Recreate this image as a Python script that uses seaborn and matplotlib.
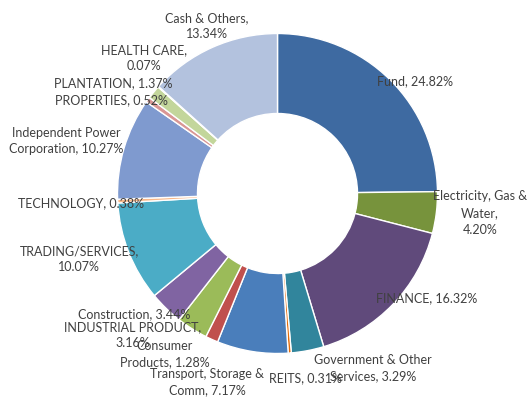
import matplotlib
matplotlib.use("Agg")
import matplotlib.pyplot as plt
import seaborn as sns

sns.set_theme(style="white")
plt.rcParams['font.family'] = ['Lato', 'DejaVu Sans']

categories = ["Fund", "Electricity, Gas &\nWater", "FINANCE", "Government & Other\nServices",
              "REITS", "Transport, Storage &\nComm", "Consumer\nProducts", "INDUSTRIAL PRODUCT",
              "Construction", "TRADING/SERVICES", "TECHNOLOGY", "Independent Power\nCorporation",
              "PROPERTIES", "PLANTATION", "HEALTH CARE", "Cash & Others"]
values = [24.82, 4.20, 16.32, 3.29, 0.31, 7.17, 1.28, 3.16, 3.44, 10.07, 0.38, 10.27, 0.52, 1.37, 0.07, 13.34]
colors = ["#3E6AA1", "#77933C", "#604A7B", "#31859C", "#E46C0A", "#4A7EBB", "#C0504D", "#9BBB59",
          "#8064A2", "#4BACC6", "#F9B98A", "#7F9ACF", "#D99694", "#C3D69B", "#B3A2C7", "#B3C2DE"]

# label layout: separator between name and value, and pixel position (y from top)
separators = [", ", ",\n", ", ", ", ", ", ", ", ", ", ", ",\n",
              ", ", ",\n", ", ", ", ", ", ", ", ", ",\n", ",\n"]
label_pos = [(415, 81), (480, 213), (427, 298), (373, 368), (305, 378), (207, 382), (165, 354),
             (133, 335), (134, 314), (79, 259), (81, 203), (66, 141), (111, 100), (113, 83),
             (144, 58), (207, 26)]

W, H = 528, 399
fig = plt.figure(figsize=(W / 100, H / 100), dpi=100)
ax = fig.add_axes([0, 0, 1, 1])

cx, cy, R = 277.5, H - 193.5, 160
ax.pie(values, colors=colors, startangle=90, counterclock=False, center=(cx, cy), radius=R,
       wedgeprops=dict(width=R * 0.5, edgecolor="white", linewidth=1.0), frame=False)
ax.set_xlim(0, W)
ax.set_ylim(0, H)
ax.set_aspect('equal')
ax.axis('off')

for name, v, sep, (px, py) in zip(categories, values, separators, label_pos):
    txt = f"{name}{sep}{v:.2f}%"
    ax.text(px, H - py, txt, ha="center", va="center", fontsize=9, color="#404040",
            linespacing=1.45)

fig.savefig("out.png", dpi=100)
